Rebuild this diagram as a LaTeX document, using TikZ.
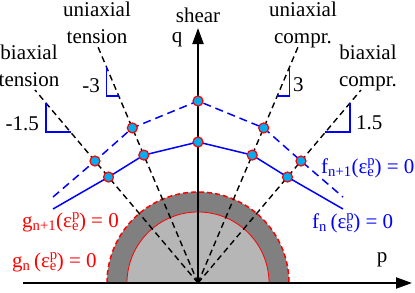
\documentclass[tikz,border=0pt]{standalone}
\usepackage{fontspec}
\setmainfont{Liberation Serif}
\usetikzlibrary{arrows.meta,calc}
\definecolor{darkgr}{RGB}{128,128,128}
\definecolor{lightgr}{RGB}{182,182,182}
\newcommand\epsPE{ε\rlap{\textsuperscript{p}}\textsubscript{e}}
\begin{document}
\begin{tikzpicture}[x=1pt,y=-1pt,
  ray/.style={black, line width=1.4pt, dash pattern=on 6pt off 4pt},
  axis/.style={line width=2pt, -{Triangle[length=16pt,width=11pt]}},
  curve/.style={blue, line width=1.5pt},
  curveD/.style={blue, line width=1.5pt, dash pattern=on 8pt off 5pt},
  slope/.style={blue, line width=1.6pt},
  pt/.style={circle, fill=cyan, draw=red, line width=1.2pt, minimum size=10pt, inner sep=0pt},
  lbl/.style={font=\fontsize{21}{27}\selectfont, inner sep=0pt, align=center},
]
\useasboundingbox (0,0) rectangle (415,292);
% origin and ray ends
\coordinate (O) at (198,283);
\coordinate (BT) at (35,90);
\coordinate (UT) at (98,47);
\coordinate (UC) at (298,47);
\coordinate (BC) at (361,90);
\coordinate (pS) at (23,283);
\coordinate (pE) at (412,283);
\coordinate (qE) at (198,28);
% circles
\fill[darkgr] (107,283) arc[start angle=180,end angle=0,radius=91pt] -- cycle;
\fill[lightgr] (127,283) arc[start angle=180,end angle=0,radius=71pt] -- cycle;
\draw[red, line width=0.8pt] (127,283) arc[start angle=180,end angle=0,radius=71pt];
\draw[red, line width=1.5pt, dash pattern=on 5pt off 3pt] (107,283) arc[start angle=180,end angle=0,radius=91pt];
% rays
\draw[ray] (O) -- (BT);
\draw[ray] (O) -- (UT);
\draw[ray] (O) -- (UC);
\draw[ray] (O) -- (BC);
% axes
\draw[axis] (pS) -- (pE);
\draw[axis] (O) -- (qE);
% points
\coordinate (d1) at ($(O)!0.632!(BT)$);
\coordinate (s1) at ($(O)!0.549!(BT)$);
\coordinate (d2) at ($(O)!0.657!(UT)$);
\coordinate (s2) at ($(O)!0.542!(UT)$);
\coordinate (d3) at (198,101);
\coordinate (s3) at (198,142);
\coordinate (d4) at ($(O)!0.657!(UC)$);
\coordinate (s4) at ($(O)!0.542!(UC)$);
\coordinate (d5) at ($(O)!0.632!(BC)$);
\coordinate (s5) at ($(O)!0.549!(BC)$);
\coordinate (dL) at (53,197);
\coordinate (sL) at (53,209);
\coordinate (dR) at (343,197);
\coordinate (sR) at (343,209);
% yield curves
\draw[curveD] (dL) -- (d1) -- (d2) -- (d3) -- (d4) -- (d5) -- (dR);
\draw[curve] (sL) -- (s1) -- (s2) -- (s3) -- (s4) -- (s5) -- (sR);
\foreach \p in {d1,s1,d2,s2,d3,s3,d4,s4,d5,s5} \node[pt] (n\p) at (\p) {};
% slope triangles
\coordinate (ta1) at ($(O)!0.933!(BT)$);
\coordinate (tb1) at ($(O)!0.782!(BT)$);
\coordinate (ta2) at ($(O)!0.915!(UT)$);
\coordinate (tb2) at ($(O)!0.792!(UT)$);
\coordinate (ta3) at ($(O)!0.915!(UC)$);
\coordinate (tb3) at ($(O)!0.792!(UC)$);
\coordinate (ta4) at ($(O)!0.933!(BC)$);
\coordinate (tb4) at ($(O)!0.782!(BC)$);
\draw[slope] (ta1) -- (ta1 |- tb1) -- (tb1);
\draw[slope] (ta2) -- (ta2 |- tb2) -- (tb2);
\draw[slope] (ta3) -- (ta3 |- tb3) -- (tb3);
\draw[slope] (ta4) -- (ta4 |- tb4) -- (tb4);
% labels
\node[lbl, anchor=base east] (l1) at (39,130) {-1.5};
\node[lbl, anchor=base east] (l2) at (100,92) {-3};
\node[lbl, anchor=base west] (l3) at (293,91) {3};
\node[lbl, anchor=base west] (l4) at (356,129) {1.5};
\node[lbl, anchor=base] (t1) at (29,86) {biaxial\\tension};
\node[lbl, anchor=base] (t2) at (97,43) {uniaxial\\tension};
\node[lbl, anchor=base] (t3) at (303,43) {uniaxial\\compr.};
\node[lbl, anchor=base] (t4) at (368,86) {biaxial\\compr.};
\node[lbl, anchor=base] (sh) at (198,22) {shear};
\node[lbl, anchor=base] (q) at (177,42) {q};
\node[lbl, anchor=base] (p) at (382,262) {p};
\node[lbl, anchor=base west, text=blue] (f1) at (321,173) {f\textsubscript{n+1}(\epsPE) = 0};
\node[lbl, anchor=base west, text=blue] (f0) at (312,228) {f\textsubscript{n}\,(\epsPE) = 0};
\node[lbl, anchor=base west, text=red] (g1) at (22,227) {g\textsubscript{n+1}(\epsPE) = 0};
\node[lbl, anchor=base west, text=red] (g0) at (12,267) {g\textsubscript{n}\,(\epsPE) = 0};
\end{tikzpicture}
\end{document}
